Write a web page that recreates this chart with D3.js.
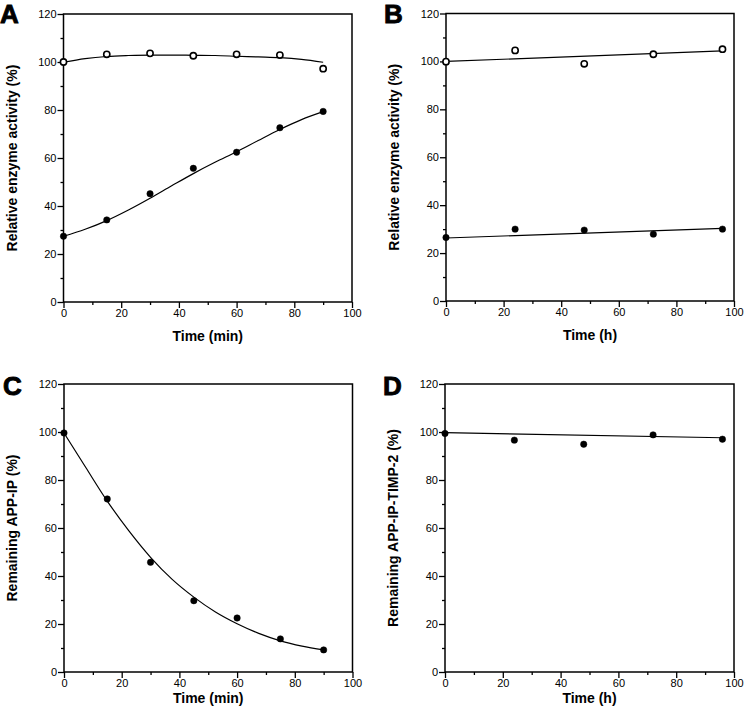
<!DOCTYPE html>
<html>
<head>
<meta charset="utf-8">
<script src="https://cdn.jsdelivr.net/npm/d3@7"></script>
<style>
  html, body { margin: 0; padding: 0; background: #fff; }
  svg { display: block; }
  text { font-family: "Liberation Sans", Arial, Helvetica, sans-serif; fill: #000; }
</style>
</head>
<body>
<svg id="chart" width="745" height="716"></svg>
<script>
// ---------- DATA ----------
const yTicks = [0, 20, 40, 60, 80, 100, 120];
const yMinorTicks = [10, 30, 50, 70, 90, 110];
const xTicks = [0, 20, 40, 60, 80, 100];
const xMinorTicks = [10, 30, 50, 70, 90];

// Panel A
const timeA = [0, 15, 30, 45, 60, 75, 90];
const activityAOpen = [100.0, 103.2, 103.6, 102.6, 103.2, 102.9, 97.2];
const activityAFilled = [27.4, 34.2, 45.1, 55.7, 62.4, 72.6, 79.4];
const fitTimeA = [0, 7.5, 15, 22.5, 30, 37.5, 45, 52.5, 60, 67.5, 75, 82.5, 90];
const fitAOpen = [99.9, 101.4, 102.3, 102.7, 102.9, 102.9, 102.8, 102.7, 102.4, 102.1, 101.8, 101.1, 99.9];
const fitAFilled = [27.4, 30.3, 33.9, 38.3, 43.2, 48.4, 53.5, 58.2, 62.6, 67.3, 71.9, 76.0, 79.3];

// Panel B
const timeB = [0, 24, 48, 72, 96];
const activityBOpen = [99.9, 104.6, 99.0, 103.0, 105.1];
const activityBFilled = [26.5, 30.0, 29.6, 27.9, 30.0];
const fitTimeB = [0, 96];
const fitBOpen = [100.0, 104.4];
const fitBFilled = [26.3, 30.3];

// Panel C
const timeC = [0, 15, 30, 45, 60, 75, 90];
const remainingC = [99.6, 72.1, 45.7, 29.7, 22.5, 13.8, 9.2];
const fitTimeC = [0, 7.5, 15, 22.5, 30, 37.5, 45, 52.5, 60, 67.5, 75, 82.5, 90];
const fitC = [99.6, 85.3, 71.2, 58.8, 47.8, 38.6, 31.2, 25.0, 20.1, 16.1, 13.0, 10.8, 9.2];

// Panel D
const timeD = [0, 24, 48, 72, 96];
const remainingD = [99.4, 96.6, 94.9, 98.8, 97.0];
const fitTimeD = [0, 96];
const fitD = [99.7, 97.6];

// ---------- DRAW ----------
const svg = d3.select("#chart");

const panels = [
  { letter: "A", lx: 0, ly: 23, left: 63.5, right: 352, top: 14, bottom: 302,
    xTitle: "Time (min)", xTitleY: 341, yTitle: "Relative enzyme activity (%)",
    series: [
      { x: timeA, y: activityAOpen, fx: fitTimeA, fy: fitAOpen, open: true },
      { x: timeA, y: activityAFilled, fx: fitTimeA, fy: fitAFilled, open: false }
    ] },
  { letter: "B", lx: 384, ly: 23, left: 446, right: 734, top: 13.5, bottom: 301,
    xTitle: "Time (h)", xTitleY: 340, yTitle: "Relative enzyme activity (%)",
    series: [
      { x: timeB, y: activityBOpen, fx: fitTimeB, fy: fitBOpen, open: true },
      { x: timeB, y: activityBFilled, fx: fitTimeB, fy: fitBFilled, open: false }
    ] },
  { letter: "C", lx: 3, ly: 395, left: 64, right: 352.5, top: 384, bottom: 672,
    xTitle: "Time (min)", xTitleY: 703, yTitle: "Remaining APP-IP (%)",
    series: [
      { x: timeC, y: remainingC, fx: fitTimeC, fy: fitC, open: false }
    ] },
  { letter: "D", lx: 383, ly: 395, left: 445, right: 734, top: 384, bottom: 672,
    xTitle: "Time (h)", xTitleY: 703, yTitle: "Remaining APP-IP-TIMP-2 (%)",
    series: [
      { x: timeD, y: remainingD, fx: fitTimeD, fy: fitD, open: false }
    ] }
];

panels.forEach(p => {
  const x = d3.scaleLinear().domain([0, 100]).range([p.left, p.right]);
  const y = d3.scaleLinear().domain([0, 120]).range([p.bottom, p.top]);
  const g = svg.append("g");

  // Frame
  g.append("rect")
    .attr("x", p.left).attr("y", p.top)
    .attr("width", p.right - p.left).attr("height", p.bottom - p.top)
    .attr("fill", "none").attr("stroke", "#000").attr("stroke-width", 1.5);

  // Y axis major
  const yAx = g.append("g").attr("transform", `translate(${p.left},0)`)
    .call(d3.axisLeft(y).tickValues(yTicks).tickSize(6).tickPadding(1).tickFormat(d3.format("d")));
  yAx.select(".domain").remove();
  yAx.selectAll(".tick line").attr("stroke-width", 1.3);
  yAx.selectAll(".tick text").attr("font-size", 11).attr("font-family", "Liberation Sans, Arial, sans-serif");

  const yMin = g.append("g").attr("transform", `translate(${p.left},0)`)
    .call(d3.axisLeft(y).tickValues(yMinorTicks).tickSize(3).tickFormat(""));
  yMin.select(".domain").remove();
  yMin.selectAll(".tick line").attr("stroke-width", 1.3);

  // X axis major
  const xAx = g.append("g").attr("transform", `translate(0,${p.bottom})`)
    .call(d3.axisBottom(x).tickValues(xTicks).tickSize(6).tickPadding(1).tickFormat(d3.format("d")));
  xAx.select(".domain").remove();
  xAx.selectAll(".tick line").attr("stroke-width", 1.3);
  xAx.selectAll(".tick text").attr("font-size", 11).attr("font-family", "Liberation Sans, Arial, sans-serif");

  const xMin = g.append("g").attr("transform", `translate(0,${p.bottom})`)
    .call(d3.axisBottom(x).tickValues(xMinorTicks).tickSize(3).tickFormat(""));
  xMin.select(".domain").remove();
  xMin.selectAll(".tick line").attr("stroke-width", 1.3);

  // Titles
  g.append("text")
    .attr("x", (p.left + p.right) / 2).attr("y", p.xTitleY)
    .attr("text-anchor", "middle").attr("font-size", 14).attr("font-weight", "bold")
    .text(p.xTitle);

  g.append("text")
    .attr("transform", `translate(${p.left - 47},${(p.top + p.bottom) / 2}) rotate(-90)`)
    .attr("text-anchor", "middle").attr("font-size", 14).attr("font-weight", "bold")
    .text(p.yTitle);

  // Panel letter
  g.append("text")
    .attr("x", p.lx).attr("y", p.ly)
    .attr("font-size", 26).attr("font-weight", "bold")
    .attr("stroke", "#000").attr("stroke-width", 0.9)
    .text(p.letter);

  // Series
  const line = d3.line().x(d => x(d[0])).y(d => y(d[1])).curve(d3.curveMonotoneX);
  p.series.forEach(s => {
    const fit = s.fx.map((t, i) => [t, s.fy[i]]);
    g.append("path").datum(fit)
      .attr("d", line).attr("fill", "none").attr("stroke", "#000").attr("stroke-width", 1.2);

    const pts = s.x.map((t, i) => [t, s.y[i]]);
    g.selectAll(null).data(pts).enter().append("circle")
      .attr("cx", d => x(d[0])).attr("cy", d => y(d[1]))
      .attr("r", s.open ? 3.1 : 3.2)
      .attr("fill", s.open ? "#fff" : "#000")
      .attr("stroke", "#000")
      .attr("stroke-width", s.open ? 1.6 : 0.5);
  });
});
</script>
</body>
</html>
